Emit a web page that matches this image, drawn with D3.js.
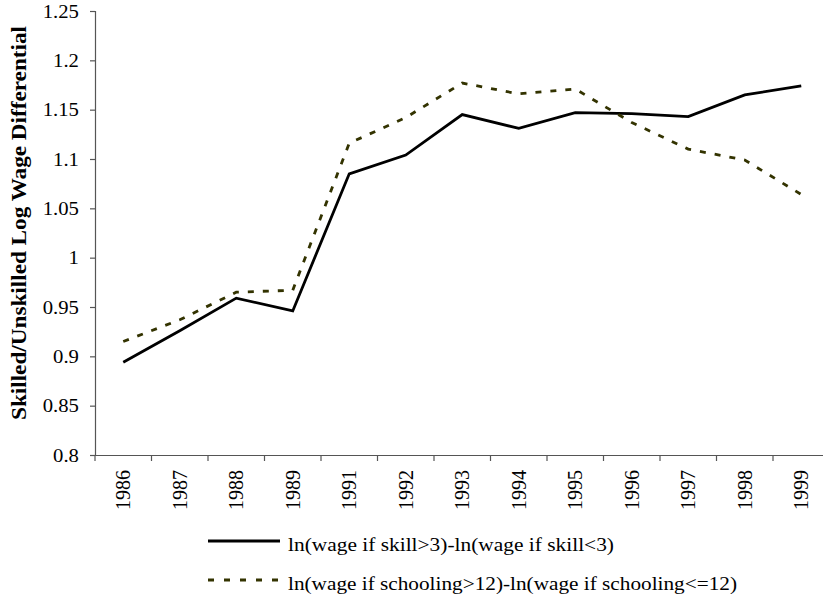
<!DOCTYPE html>
<html>
<head>
<meta charset="utf-8">
<script src="https://cdn.jsdelivr.net/npm/d3@7"></script>
<style>
  html, body { margin: 0; padding: 0; background: #fff; }
  svg { display: block; }
  text { font-family: "Liberation Serif", "Times New Roman", serif; fill: #000; }
</style>
</head>
<body>
<svg id="chart" width="823" height="599"></svg>
<script>
const years = ["1986","1987","1988","1989","1991","1992","1993","1994","1995","1996","1997","1998","1999"];
const skillSeries = [0.894, 0.926, 0.959, 0.946, 1.085, 1.104, 1.145, 1.131, 1.147, 1.146, 1.143, 1.165, 1.174];
const schoolingSeries = [0.915, 0.937, 0.965, 0.967, 1.116, 1.142, 1.177, 1.166, 1.171, 1.137, 1.110, 1.099, 1.064];
const yTickValues = [0.8, 0.85, 0.9, 0.95, 1.0, 1.05, 1.1, 1.15, 1.2, 1.25];
const yTickLabels = ["0.8", "0.85", "0.9", "0.95", "1", "1.05", "1.1", "1.15", "1.2", "1.25"];
const seriesNames = ["ln(wage if skill>3)-ln(wage if skill<3)", "ln(wage if schooling>12)-ln(wage if schooling<=12)"];
const yTitle = "Skilled/Unskilled Log Wage Differential";

(function () {
const svg = d3.select("#chart");
const mLeft = 95, mTop = 11, mBottom = 455, step = 56.5;
const x = d3.scaleBand().domain(years).range([mLeft, mLeft + years.length * step]).padding(0);
const y = d3.scaleLinear().domain([0.8, 1.25]).range([mBottom, mTop]);
const cx = d => x(d) + x.bandwidth() / 2;
const axisColor = "#555";

// Y axis
const yAxis = d3.axisLeft(y).tickValues(yTickValues).tickSize(5)
  .tickFormat((d, i) => yTickLabels[i]);
const gy = svg.append("g").attr("transform", `translate(${mLeft},0)`).call(yAxis);
gy.select(".domain").attr("stroke", axisColor).attr("stroke-width", 1.2);
gy.selectAll(".tick line").attr("stroke", axisColor).attr("stroke-width", 1.2);
gy.selectAll(".tick text")
  .attr("x", -14).attr("dy", "0.34em")
  .style("font-size", "18px")
  .style("font-family", '"Liberation Serif", serif')
  .attr("text-anchor", "end")
  .attr("transform", "scale(1.15,1)");

// X axis line and boundary ticks
const xAxis = d3.axisBottom(x).tickSize(0).tickSizeOuter(0);
const gx = svg.append("g").attr("transform", `translate(0,${mBottom})`).call(xAxis);
gx.select(".domain").attr("stroke", axisColor).attr("stroke-width", 1.2);
gx.selectAll(".tick text")
  .attr("transform", "rotate(-90)")
  .attr("x", -15).attr("y", 0).attr("dy", "0.35em")
  .attr("text-anchor", "end")
  .style("font-size", "20px")
  .style("font-family", '"Liberation Serif", serif');
const boundaries = years.map(d => x(d)).concat([x.range()[1]]);
gx.selectAll("line.bt").data(boundaries).enter().append("line")
  .attr("class", "bt")
  .attr("x1", d => d).attr("x2", d => d)
  .attr("y1", 0).attr("y2", 6)
  .attr("stroke", axisColor).attr("stroke-width", 1.2);

// Lines
const line = d3.line().x((d, i) => cx(years[i])).y(d => y(d));
svg.append("path").datum(skillSeries)
  .attr("d", line).attr("fill", "none")
  .attr("stroke", "#000").attr("stroke-width", 2.8)
  .attr("stroke-linejoin", "miter");
svg.append("path").datum(schoolingSeries)
  .attr("d", line).attr("fill", "none")
  .attr("stroke", "#333300").attr("stroke-width", 2.8)
  .attr("stroke-dasharray", "6,9");

// Y title
svg.append("text")
  .attr("transform", `translate(26,223) rotate(-90)`)
  .attr("text-anchor", "middle")
  .attr("textLength", 394).attr("lengthAdjust", "spacingAndGlyphs")
  .style("font-size", "20px").style("font-weight", "bold")
  .text(yTitle);

// Legend
const legend = svg.append("g");
const legY = [541, 580];
legend.append("line").attr("x1", 208).attr("x2", 280).attr("y1", legY[0]).attr("y2", legY[0])
  .attr("stroke", "#000").attr("stroke-width", 2.8);
legend.append("line").attr("x1", 208).attr("x2", 280).attr("y1", legY[1]).attr("y2", legY[1])
  .attr("stroke", "#333300").attr("stroke-width", 2.8).attr("stroke-dasharray", "6,10");
legend.selectAll("text.lg").data(seriesNames).enter().append("text")
  .attr("class", "lg")
  .attr("x", 288).attr("y", (d, i) => legY[i] + 10)
  .attr("textLength", (d, i) => [326, 449][i]).attr("lengthAdjust", "spacingAndGlyphs")
  .style("font-size", "19px")
  .text(d => d);
})();
</script>
</body>
</html>
